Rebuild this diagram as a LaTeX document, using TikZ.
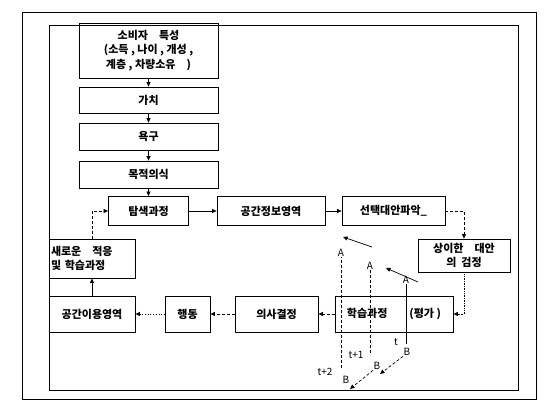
\documentclass[tikz,border=0pt]{standalone}
\usepackage{fontspec}
\setmainfont{Noto Sans CJK KR}
\usetikzlibrary{arrows.meta}

\begin{document}
\begin{tikzpicture}[x=1pt, y=-1pt, font=\fontsize{11}{14.5}\selectfont,
    box/.style={draw, line width=0.8pt, inner sep=2pt, align=center, font=\fontsize{11}{14.5}\selectfont\bfseries},
    tip/.style={-{Triangle[length=4.5pt,width=4pt]}, line width=0.7pt},
    lbl/.style={font=\fontsize{10}{10}\selectfont, inner sep=0.5pt}]
    \useasboundingbox (0,0) rectangle (554,414);

    % Frames
    \draw[line width=0.8pt] (22,12) rectangle (536,399);
    \draw[line width=0.8pt] (49,25) rectangle (518,390);

    % Left column
    \node[box, minimum width=139pt, minimum height=55pt] (char) at (148.5,50.5)
        {소비자\quad 특성\\(소득 , 나이 , 개성 ,\\계층 , 차량소유\quad )};
    \node[box, minimum width=139pt, minimum height=26pt] (value) at (148.5,100) {가치};
    \node[box, minimum width=139pt, minimum height=27pt] (need) at (148.5,136.5) {욕구};
    \node[box, minimum width=139pt, minimum height=27pt] (aim) at (148.5,174.5) {목적의식};

    % Middle row
    \node[box, minimum width=80pt, minimum height=29pt] (search) at (148.5,211) {탐색과정};
    \node[box, minimum width=108pt, minimum height=29pt] (info) at (271,211) {공간정보영역};
    \node[box, minimum width=103pt, minimum height=29pt] (choice) at (393.5,211) {선택대안파악\_};
    \node[box, minimum width=92pt, minimum height=33pt] (test) at (464,255.5)
        {상이한\quad 대안\\의\ \ 검정};

    % Bottom row
    \node[box, minimum width=118pt, minimum height=36pt] (learn) at (394,314) {학습과정\hspace{2em}(평가 )};
    \node[box, minimum width=83pt, minimum height=36pt] (decide) at (276.5,314) {의사결정};
    \node[box, minimum width=45pt, minimum height=36pt] (act) at (187.5,314) {행동};
    \node[box, minimum width=86pt, minimum height=36pt] (use) at (92,314) {공간이용영역};
    \node[box, text width=82pt, minimum height=39pt, align=left] (adapt) at (92,258.5)
        {새로운\quad 적응\\및 학습과정};

    % Flow
    \draw[tip] (char) -- (value);
    \draw[tip] (value) -- (need);
    \draw[tip] (need) -- (aim);
    \draw[tip] (aim) -- (search);
    \draw[tip] (search) -- (info);
    \draw[tip] (info) -- (choice);
    \draw[tip, densely dashed] (choice.east) -| (test.north);
    \draw[tip, densely dotted] (test.south) |- (learn.east);
    \draw[tip, densely dashed] (learn) -- (decide);
    \draw[tip, densely dashed] (decide) -- (act);
    \draw[tip, dotted] (act) -- (use);
    \draw[tip] (use) -- (adapt);
    \draw[tip, densely dashed] (adapt.north) |- (search.west);

    % Learning over time
    \node[lbl] (a1) at (341,253) {A};
    \node[lbl] (a2) at (370,266) {A};
    \node[lbl] (a3) at (406,280) {A};
    \node[lbl] (b1) at (346,380) {B};
    \node[lbl] (b2) at (377,366) {B};
    \node[lbl] (b3) at (407,352) {B};
    \node[lbl] (t1) at (325,372) {t+2};
    \node[lbl] (t2) at (356,355) {t+1};
    \node[lbl] (t3) at (396,342) {t};

    \coordinate (s1) at (341,368);
    \coordinate (s2) at (370,353);
    \coordinate (s3) at (406,344);
    \draw[densely dashed, line width=0.7pt] (s1) -- (a1);
    \draw[densely dashed, line width=0.7pt] (s2) -- (a2);
    \draw[line width=0.7pt] (s3) -- (a3);

    \coordinate (d1) at (418,282);
    \coordinate (e1) at (386,268);
    \coordinate (d2) at (372,247);
    \coordinate (e2) at (343,237);
    \draw[tip] (d1) -- (e1);
    \draw[tip] (d2) -- (e2);

    \coordinate (f3) at (380,374);
    \coordinate (f2) at (350,389);
    \draw[tip, densely dashed] (b3.south west) -- (f3);
    \draw[tip, densely dashed] (b2.south west) -- (f2);

\end{tikzpicture}
\end{document}
